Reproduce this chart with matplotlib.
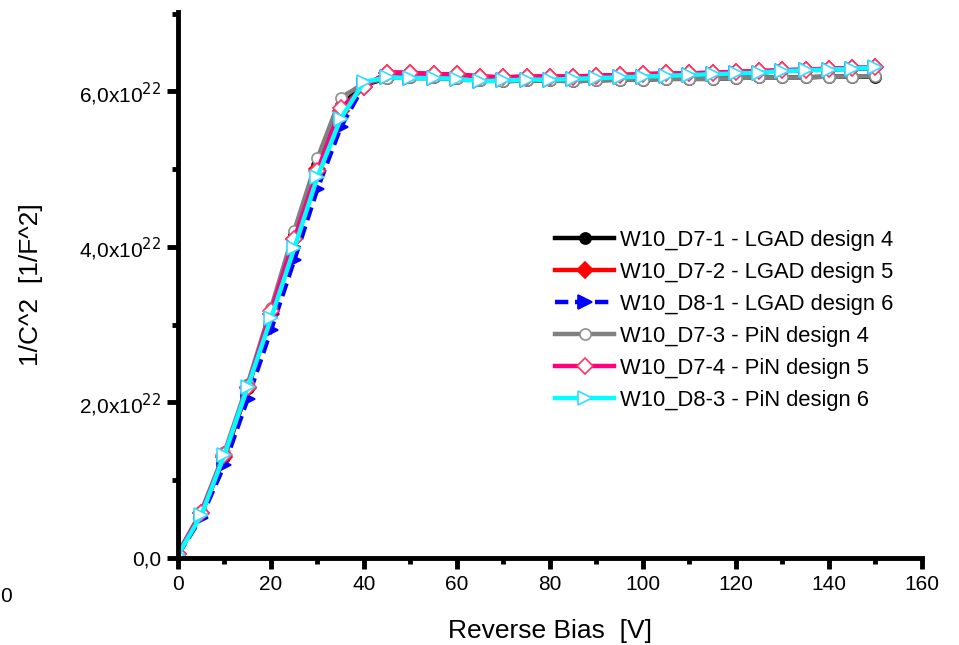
import matplotlib
matplotlib.use("Agg")
import matplotlib.pyplot as plt
from matplotlib.ticker import MultipleLocator, FuncFormatter

plt.rcParams['font.family'] = ['Liberation Sans', 'DejaVu Sans']

bias = [0, 5, 10, 15, 20, 25, 30, 35, 40, 45, 50, 55, 60, 65, 70, 75, 80, 85, 90, 95,
        100, 105, 110, 115, 120, 125, 130, 135, 140, 145, 150]

# values in units of 1e22
d7_1 = [0.05, 0.57, 1.30, 2.18, 3.15, 4.15, 5.05, 5.82, 6.08, 6.17, 6.18, 6.18, 6.17, 6.15, 6.13,
        6.14, 6.14, 6.13, 6.14, 6.15, 6.15, 6.16, 6.16, 6.16, 6.17, 6.18, 6.18, 6.18, 6.19, 6.19, 6.19]
d7_2 = [0.05, 0.58, 1.30, 2.18, 3.14, 4.10, 5.00, 5.75, 6.06, 6.24, 6.24, 6.22, 6.22, 6.19, 6.18,
        6.19, 6.19, 6.19, 6.20, 6.21, 6.22, 6.23, 6.23, 6.24, 6.25, 6.26, 6.27, 6.28, 6.29, 6.30, 6.31]
d8_1 = [0.04, 0.52, 1.20, 2.05, 2.93, 3.83, 4.75, 5.54, 6.08, 6.18, 6.17, 6.17, 6.16, 6.13, 6.14,
        6.15, 6.15, 6.16, 6.17, 6.18, 6.19, 6.20, 6.21, 6.22, 6.23, 6.24, 6.26, 6.27, 6.28, 6.29, 6.30]
d7_3 = [0.06, 0.60, 1.36, 2.24, 3.21, 4.21, 5.14, 5.92, 6.10, 6.17, 6.18, 6.18, 6.17, 6.15, 6.13,
        6.14, 6.14, 6.13, 6.14, 6.15, 6.15, 6.16, 6.16, 6.16, 6.17, 6.18, 6.18, 6.18, 6.19, 6.19, 6.20]
d7_4 = [0.05, 0.58, 1.33, 2.20, 3.17, 4.10, 4.98, 5.78, 6.06, 6.24, 6.24, 6.22, 6.22, 6.19, 6.18,
        6.19, 6.19, 6.19, 6.20, 6.21, 6.22, 6.23, 6.23, 6.24, 6.25, 6.26, 6.27, 6.28, 6.29, 6.30, 6.31]
d8_3 = [0.04, 0.55, 1.33, 2.20, 3.08, 3.98, 4.90, 5.65, 6.12, 6.18, 6.17, 6.17, 6.16, 6.13, 6.14,
        6.15, 6.15, 6.16, 6.17, 6.18, 6.19, 6.20, 6.21, 6.22, 6.23, 6.24, 6.26, 6.27, 6.28, 6.29, 6.31]

labels = ["W10_D7-1 - LGAD design 4", "W10_D7-2 - LGAD design 5", "W10_D8-1 - LGAD design 6",
          "W10_D7-3 - PiN design 4", "W10_D7-4 - PiN design 5", "W10_D8-3 - PiN design 6"]

fig = plt.figure(figsize=(9.59, 6.45), dpi=100)
ax = fig.add_axes([0.1856, 0.1349, 0.7758, 0.8465])

scale = 1e22
styles = [
    dict(color='black', marker='o', mfc='black', mec='black', ls='-', ms=8),
    dict(color='#ff0000', marker='D', mfc='#ff0000', mec='#ff0000', ls='-', ms=8),
    dict(color='#0000ff', marker='>', mfc='#0000ff', mec='#0000ff', ls=(0, (3, 1.5)), ms=10),
    dict(color='#808080', marker='o', mfc='white', mec='#909090', ls='-', ms=8),
    dict(color='#ff0080', marker='D', mfc='white', mec='#ff3366', ls='-', ms=8),
    dict(color='#00ffff', marker='>', mfc='white', mec='#33ddff', ls='-', ms=10),
]
series = [d7_1, d7_2, d8_1, d7_3, d7_4, d8_3]
for vals, lab, st in zip(series, labels, styles):
    ax.plot(bias, [v * scale for v in vals], label=lab, lw=3.2, mew=1.2, **st)

ax.set_xlim(0, 160)
ax.set_ylim(0, 7.02e22)
ax.xaxis.set_major_locator(MultipleLocator(20))
ax.xaxis.set_minor_locator(MultipleLocator(10))
ax.yaxis.set_major_locator(MultipleLocator(2e22))
ax.yaxis.set_minor_locator(MultipleLocator(1e22))

def yfmt(v, pos):
    if abs(v) < 1e10:
        return "0,0"
    m = v / 1e22
    return ("%.1f" % m).replace('.', ',') + r"x10$^{22}$"
ax.yaxis.set_major_formatter(FuncFormatter(yfmt))

for s in ['top', 'right']:
    ax.spines[s].set_visible(False)
for s in ['left', 'bottom']:
    ax.spines[s].set_linewidth(3.5)
ax.tick_params(which='major', direction='out', length=8, width=3.5, labelsize=15, pad=4)
ax.tick_params(which='minor', direction='out', length=4, width=3.5)

ax.set_xlabel("Reverse Bias  [V]", fontsize=19, labelpad=18)
ax.set_ylabel("1/C^2  [1/F^2]", fontsize=19, labelpad=26)

leg = ax.legend(loc='upper left', bbox_to_anchor=(0.495, 0.617), frameon=False, fontsize=15.8,
                handlelength=2.7, labelspacing=0.5, handletextpad=0.25, borderaxespad=0)

fig.text(0.0, 0.075, "0", fontsize=15, ha='left', va='center')

fig.savefig("out.png", dpi=100)
